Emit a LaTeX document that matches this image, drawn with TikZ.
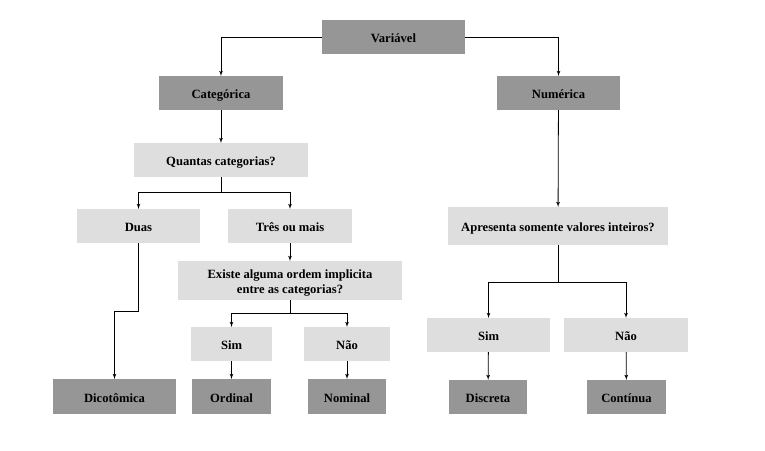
\documentclass[tikz,border=0pt]{standalone}
\usepackage{fontspec}
\setmainfont{Liberation Serif}
\usetikzlibrary{arrows}
\definecolor{darkbox}{HTML}{969696}
\definecolor{lightbox}{HTML}{DEDEDE}
\begin{document}
\begin{tikzpicture}[->,>=latex',x=1pt,y=-1pt,line width=0.8pt,
    base node/.style={rectangle,inner sep=0pt,outer sep=0pt,minimum height=34pt,align=center,
        text height=11pt,text depth=0pt,font=\fontsize{12.6}{15}\selectfont\bfseries},
    dark node/.style={base node,fill=darkbox}, light node/.style={base node,fill=lightbox},
    elbow/.style={to path={-| (\tikztotarget)}}]

\useasboundingbox (0,0) rectangle (765,450);

\node[dark node, minimum width=143pt]   (var)     at (393.5,37)  {Variável};
\node[dark node, minimum width=124pt]   (cat)     at (221,93)    {Categórica};
\node[dark node, minimum width=123pt]   (num)     at (558.5,93)  {Numérica};

\node[light node, minimum width=174pt]  (quant)   at (221,160)   {Quantas categorias?};
\node[light node, minimum width=123pt]  (duas)    at (138.5,226) {Duas};
\node[light node, minimum width=124pt]  (tres)    at (290,226)   {Três ou mais};
\node[light node, minimum width=224pt, minimum height=39pt, text height=25pt]
                                        (existe)  at (290,280.5) {Existe alguma ordem implicita\\entre as categorias?};
\node[light node, minimum width=81pt]   (sim1)    at (231.5,344) {Sim};
\node[light node, minimum width=86pt]   (nao1)    at (347,344)   {Não};

\node[dark node, minimum width=123pt, minimum height=35pt] (dico)    at (114.5,396.5) {Dicotômica};
\node[dark node, minimum width=79pt, minimum height=35pt]  (ordinal) at (231.5,396.5) {Ordinal};
\node[dark node, minimum width=78pt, minimum height=35pt]  (nominal) at (347,396.5)   {Nominal};

\node[light node, minimum width=220pt, minimum height=38pt]
                                        (apres)   at (558,226)   {Apresenta somente valores inteiros?};
\node[light node, minimum width=123pt]  (sim2)    at (488.5,335) {Sim};
\node[light node, minimum width=124pt]  (nao2)    at (626,335)   {Não};
\node[dark node, minimum width=78pt]    (disc)    at (488,397)   {Discreta};
\node[dark node, minimum width=79pt]    (cont)    at (626.5,397) {Contínua};

\path[]
(var.west)  edge[elbow] (cat.north)
(var.east)  edge[elbow] (num.north)
(cat)       edge (quant)
(tres)      edge (existe)
(sim1)      edge (ordinal)
(nao1)      edge (nominal)
(num)       edge (apres)
(sim2)      edge (disc)
(nao2)      edge (cont);

\draw (quant.south) -- ++(0,15) coordinate (qsplit) -| (duas.north);
\draw (qsplit) -| (tres.north);
\draw (duas.south) -- ++(0,68) -| (dico.north);
\draw (existe.south) -- ++(0,13) coordinate (esplit) -| (sim1.north);
\draw (esplit) -| (nao1.north);
\draw (apres.south) -- ++(0,37) coordinate (asplit) -| (sim2.north);
\draw (asplit) -| (nao2.north);
\end{tikzpicture}
\end{document}
